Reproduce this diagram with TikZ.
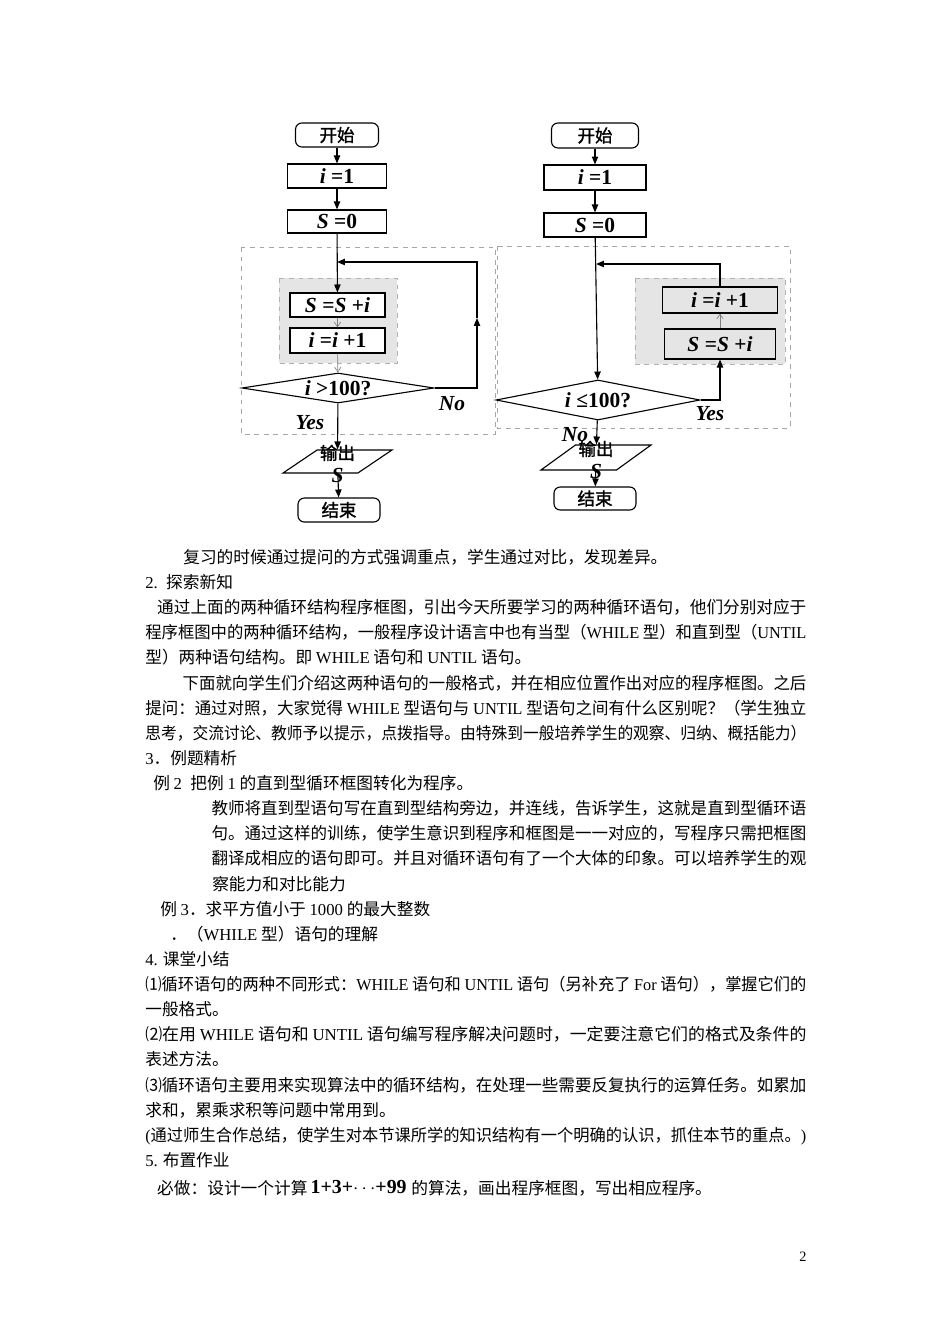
\documentclass[tikz,border=0pt]{standalone}
\usepackage{fontspec}
\usepackage{graphicx}
\setmainfont{Liberation Serif}
\newfontfamily\cjk{Noto Sans CJK SC}
\newfontfamily\cjkbold{Noto Sans CJK SC}[FakeBold=1.5]
\usetikzlibrary{arrows.meta,shapes.geometric}

\newcommand\entxt[1]{{\rmfamily #1}}
\newcommand\bvar[1]{\textbf{\textit{#1}}}
\newcommand\zw[1]{{\cjkbold\fontsize{11pt}{13pt}\selectfont #1}}
\newcommand\jline[1]{\resizebox{415.8pt}{\height}{#1}}

\begin{document}
\begin{tikzpicture}[
    x=0.629pt, y=-0.629pt,
    every node/.style={font=\fontsize{13.5pt}{15pt}\selectfont},
    startstop/.style={draw, line width=0.7pt, rounded corners=4pt, inner sep=0pt},
    proc/.style={draw, line width=0.7pt, rectangle, inner sep=0pt},
    decide/.style={draw, line width=0.7pt, diamond, inner sep=0pt},
    io/.style={draw, line width=0.7pt, trapezium, trapezium left angle=50, trapezium right angle=130,
      trapezium stretches=true, inner sep=0pt},
    outlabel/.style={align=center, yshift=-1.5pt, font=\fontsize{13.5pt}{14.5pt}\selectfont},
    outerframe/.style={draw=gray!70, dashed},
    loopbox/.style={draw=gray!60, dashed, fill=gray!20},
    flow/.style={-{Triangle[length=5pt,width=4pt]}, line width=0.7pt},
    thin flow/.style={-{Straight Barb[length=3pt,width=4pt]}, gray},
    yesno/.style={font=\fontsize{13.5pt}{15pt}\selectfont\bfseries\itshape},
    txtblock/.style={inner sep=0pt, align=left, font=\cjk\fontsize{10.5pt}{15.8pt}\selectfont}
  ]
  \useasboundingbox[fill=white] (0,0) rectangle (950,1344);

  % left chart: until loop
  \draw[outerframe] (241,247) rectangle (495,434);
  \draw[loopbox] (279,278) rectangle (397,363);
  \node[startstop, minimum width=52.2pt, minimum height=15.1pt] (st1) at (337,135) {\zw{开始}};
  \node[proc, minimum width=62.3pt, minimum height=15.1pt] (i1) at (337,176) {\bvar{i} \textbf{=1}};
  \node[proc, minimum width=62.3pt, minimum height=14.5pt] (s1) at (337,221.5) {\bvar{S} \textbf{=0}};
  \node[proc, fill=white, minimum width=59.8pt, minimum height=15.1pt] (a1) at (337.5,305) {\bvar{S} \textbf{=}\bvar{S} \textbf{+}\bvar{i}};
  \node[proc, fill=white, minimum width=59.8pt, minimum height=15.7pt] (b1) at (337.5,340.5) {\bvar{i} \textbf{=}\bvar{i} \textbf{+1}};
  \node[decide, aspect=6.4, minimum width=120.8pt, minimum height=18.9pt] (d1) at (338,388) {\bvar{i} \textbf{>100?}};
  \node[io, minimum width=68.6pt, minimum height=14.5pt,
    label={[outlabel]center:{\zw{输出}\\\bvar{S}}}] (o1) at (337.5,461.5) {\phantom{\rule{2pt}{2pt}}};
  \node[startstop, minimum width=51.6pt, minimum height=15.1pt] (e1) at (339,510) {\zw{结束}};
  \coordinate (m1) at (477,318);
  \coordinate (j1) at (337,262);

  \draw[flow] (st1) -- (i1);
  \draw[flow] (i1) -- (s1);
  \draw[flow] (s1) -- (a1);
  \draw[thin flow] (a1) -- (b1);
  \draw[thin flow] (b1) -- (d1);
  \draw[flow] (d1.east) -| (m1);
  \draw[flow] (m1) |- (j1);
  \draw[flow] (d1) -- (o1);
  \draw[flow] (o1) -- (e1);
  \node[yesno] (no1) at (452,404) {No};
  \node[yesno] (yes1) at (310,423) {Yes};

  % right chart: while loop
  \draw[outerframe] (497,246) rectangle (790,428);
  \draw[loopbox] (635,278) rectangle (785,364);
  \node[startstop, minimum width=54.7pt, minimum height=15.7pt] (st2) at (595,135.5) {\zw{开始}};
  \node[proc, minimum width=64.2pt, minimum height=15.7pt] (i2) at (595,177.5) {\bvar{i} \textbf{=1}};
  \node[proc, minimum width=64.2pt, minimum height=15.1pt] (s2) at (595,225) {\bvar{S} \textbf{=0}};
  \node[proc, fill=gray!20, minimum width=72.3pt, minimum height=16.4pt] (b2) at (720,300) {\bvar{i} \textbf{=}\bvar{i} \textbf{+1}};
  \node[proc, fill=gray!20, minimum width=69.8pt, minimum height=18.9pt] (a2) at (720,344) {\bvar{S} \textbf{=}\bvar{S} \textbf{+}\bvar{i}};
  \node[decide, aspect=5.1, minimum width=128.3pt, minimum height=25.2pt] (d2) at (598,400) {\bvar{i} \textbf{≤100?}};
  \node[io, minimum width=69.2pt, minimum height=15.7pt,
    label={[outlabel]center:{\zw{输出}\\\bvar{S}}}] (o2) at (596,457.5) {\phantom{\rule{2pt}{2pt}}};
  \node[startstop, minimum width=51.6pt, minimum height=14.5pt] (e2) at (595,498.5) {\zw{结束}};
  \coordinate (j2) at (596,264);

  \draw[flow] (st2) -- (i2);
  \draw[flow] (i2) -- (s2);
  \draw[flow] (s2) -- (d2);
  \draw[flow] (d2.east) -| (a2.south);
  \draw[thin flow] (a2) -- (b2);
  \draw[flow] (b2.north) |- (j2);
  \draw[flow] (d2) -- (o2);
  \draw[flow] (o2) -- (e2);
  \node[yesno] (yes2) at (710,414) {Yes};
  \node[yesno] (no2) at (575,435) {No};

  % page text
  \node[txtblock, anchor=north west] (body) at (145,549) {%
    \hspace*{23.9pt}复习的时候通过提问的方式强调重点，学生通过对比，发现差异。\\
    \entxt{2.}\hspace{0.5em}探索新知\\
    \jline{\hspace*{7.5pt}通过上面的两种循环结构程序框图，引出今天所要学习的两种循环语句，他们分别对应于}\\
    \jline{程序框图中的两种循环结构，一般程序设计语言中也有当型（\entxt{WHILE} 型）和直到型（\entxt{UNTIL}}\\
    型）两种语句结构。即 \entxt{WHILE} 语句和 \entxt{UNTIL} 语句。\\
    \jline{\hspace*{23.9pt}下面就向学生们介绍这两种语句的一般格式，并在相应位置作出对应的程序框图。之后}\\
    \jline{提问：通过对照，大家觉得 \entxt{WHILE} 型语句与 \entxt{UNTIL} 型语句之间有什么区别呢？（学生独立}\\
    \jline{思考，交流讨论、教师予以提示，点拨指导。由特殊到一般培养学生的观察、归纳、概括能力）}\\
    \entxt{3}．例题精析\\
    \hspace*{5pt}例 \entxt{2}\hspace{0.5em}把例 \entxt{1} 的直到型循环框图转化为程序。\\
    \jline{\hspace*{42.1pt}教师将直到型语句写在直到型结构旁边，并连线，告诉学生，这就是直到型循环语}\\
    \jline{\hspace*{42.1pt}句。通过这样的训练，使学生意识到程序和框图是一一对应的，写程序只需把框图}\\
    \jline{\hspace*{42.1pt}翻译成相应的语句即可。并且对循环语句有了一个大体的印象。可以培养学生的观}\\
    \hspace*{42.1pt}察能力和对比能力\\
    \hspace*{9.4pt}例 \entxt{3}．求平方值小于 \entxt{1000} 的最大整数\\
    \hspace*{15.7pt}．（\entxt{WHILE} 型）语句的理解\\
    \entxt{4.} 课堂小结\\
    \jline{⑴循环语句的两种不同形式：\entxt{WHILE} 语句和 \entxt{UNTIL} 语句（另补充了 \entxt{For} 语句），掌握它们的}\\
    一般格式。\\
    \jline{⑵在用 \entxt{WHILE} 语句和 \entxt{UNTIL} 语句编写程序解决问题时，一定要注意它们的格式及条件的}\\
    表述方法。\\
    \jline{⑶循环语句主要用来实现算法中的循环结构，在处理一些需要反复执行的运算任务。如累加}\\
    求和，累乘求积等问题中常用到。\\
    \jline{\entxt{(}通过师生合作总结，使学生对本节课所学的知识结构有一个明确的认识，抓住本节的重点。\entxt{)}}\\
    \entxt{5.} 布置作业\\[2pt]
    \hspace*{7.5pt}必做：设计一个计算\hspace{2pt}\raisebox{1pt}{\rmfamily\bfseries\fontsize{12.5pt}{14pt}\selectfont 1+3+$\cdots$+99}\hspace{3pt}的算法，画出程序框图，写出相应程序。};
  \node[font=\fontsize{9pt}{11pt}\selectfont] (pnum) at (803,1257) {2};
\end{tikzpicture}
\end{document}
